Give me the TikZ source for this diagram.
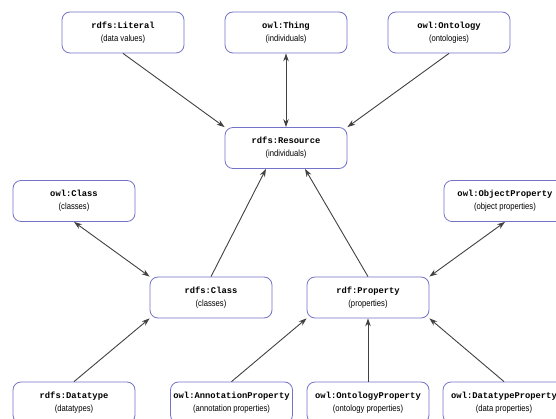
\documentclass[tikz,border=0pt]{standalone}
\usepackage{fontspec}
\setmainfont{Liberation Sans}
\setmonofont{Liberation Mono}
\newfontfamily\narrowsans[FakeStretch=0.85]{Liberation Sans}
\usetikzlibrary{arrows.meta}
\definecolor{box_blue}{RGB}{115,115,200}
\definecolor{edge_gray}{RGB}{65,65,65}
\newcommand{\term}[2]{{\fontsize{8.8}{10}\selectfont\ttfamily\bfseries #1}\\[1pt]{\fontsize{9}{10}\selectfont\narrowsans #2}}

\begin{document}
\begin{tikzpicture}[->,semithick,>={Stealth[length=8pt,width=5.5pt]},x=1pt,y=-1pt]
    \tikzstyle{vocab}=[draw=box_blue, line width=0.8pt, rounded corners=8pt, minimum width=122pt, minimum height=41pt, inner sep=0pt, fill=white, text=black, align=center]
    \tikzstyle{every edge}=[draw=edge_gray, line width=0.9pt]
    \useasboundingbox (0,0) rectangle (556,419);

    \node[vocab] (lit)       at (123,32.5)  {\term{rdfs:Literal}{(data values)}};
    \node[vocab] (thing)     at (286,32.5)  {\term{owl:Thing}{(individuals)}};
    \node[vocab] (onto)      at (449,32.5)  {\term{owl:Ontology}{(ontologies)}};
    \node[vocab] (res)       at (286,148)   {\term{rdfs:Resource}{(individuals)}};
    \node[vocab] (owlclass)  at (74,201)    {\term{owl:Class}{(classes)}};
    \node[vocab] (objprop)   at (505,201)   {\term{owl:ObjectProperty}{(object properties)}};
    \node[vocab] (rdfsclass) at (211,297.5) {\term{rdfs:Class}{(classes)}};
    \node[vocab] (prop)      at (368,297.5) {\term{rdf:Property}{(properties)}};
    \node[vocab] (dtype)     at (74,402.5)  {\term{rdfs:Datatype}{(datatypes)}};
    \node[vocab] (annprop)   at (231.5,402.5) {\term{owl:AnnotationProperty}{(annotation properties)}};
    \node[vocab] (ontprop)   at (368,402.5) {\term{owl:OntologyProperty}{(ontology properties)}};
    \node[vocab] (dtprop)    at (504,402.5) {\term{owl:DatatypeProperty}{(data properties)}};
    \path
     (lit.south) edge[] (res.north west)
     (thing.south) edge[<->] (res.north)
     (onto.south) edge[] (res.north east)
     (rdfsclass.north) edge[] ([xshift=-20pt]res.south)
     (prop.north) edge[] ([xshift=19pt]res.south)
     (owlclass.south) edge[<->] (rdfsclass.north west)
     (objprop.south) edge[<->] (prop.north east)
     (dtype.north) edge[] (rdfsclass.south west)
     (annprop.north) edge[] (prop.south west)
     (ontprop.north) edge[] (prop.south)
     (dtprop.north) edge[] (prop.south east)
     ;
\end{tikzpicture}
\end{document}
